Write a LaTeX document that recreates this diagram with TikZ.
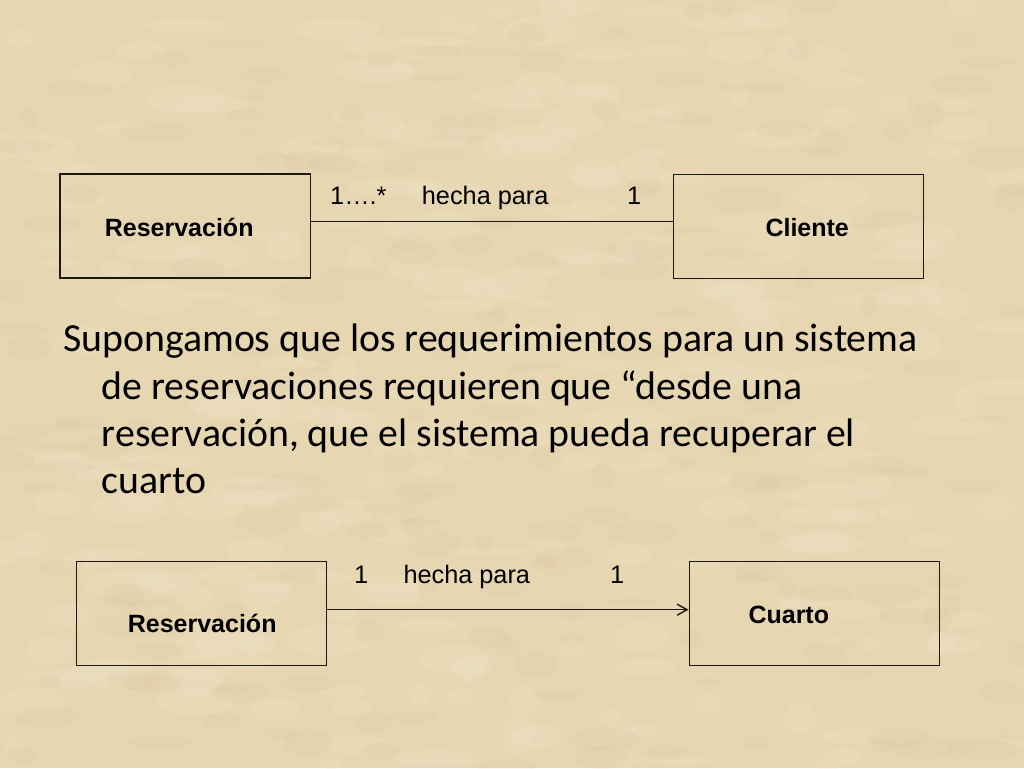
\documentclass[tikz,border=0pt]{standalone}
\usepackage{fontspec}
\setmainfont{Carlito}
\newfontfamily\arialf{Liberation Sans}
\usetikzlibrary{arrows.meta}
\definecolor{bgbase}{RGB}{230,214,178}
\definecolor{bglight}{RGB}{240,229,203}
\definecolor{bgdark}{RGB}{212,190,146}
\definecolor{ink}{RGB}{30,24,18}
\tikzset{
  umlbox/.style={draw=ink, line width=1.5pt, inner sep=0pt, minimum width=250pt, minimum height=104pt},
  boxlabel/.style={anchor=base, inner sep=0pt, font=\arialf\bfseries\fontsize{25}{30}\selectfont, text=black},
  assoclabel/.style={anchor=base west, inner sep=0pt, font=\arialf\fontsize{25.3}{30}\selectfont, text=black},
  bodytext/.style={anchor=base west, inner sep=0pt, font=\fontsize{39.8}{47}\selectfont, text=black},
  connector/.style={draw=ink, line width=1.5pt}
}
\begin{document}
\begin{tikzpicture}[x=1pt,y=-1pt]
\useasboundingbox (0,0) rectangle (1024,768);
\fill[bgbase] (0,0) rectangle (1024,768);
\pgfmathsetseed{7}
\foreach \i in {1,...,260}{
  \pgfmathsetmacro{\px}{rnd*1024}
  \pgfmathsetmacro{\py}{rnd*768}
  \pgfmathsetmacro{\rx}{10+rnd*35}
  \pgfmathsetmacro{\ry}{4+rnd*12}
  \fill[bglight, opacity=0.22] (\px,\py) ellipse [x radius=\rx pt, y radius=\ry pt];
}
\foreach \i in {1,...,200}{
  \pgfmathsetmacro{\px}{rnd*1024}
  \pgfmathsetmacro{\py}{rnd*768}
  \pgfmathsetmacro{\rx}{8+rnd*30}
  \pgfmathsetmacro{\ry}{3+rnd*10}
  \fill[bgdark, opacity=0.12] (\px,\py) ellipse [x radius=\rx pt, y radius=\ry pt];
}
\useasboundingbox (0,0) rectangle (1024,768);

% top diagram
\node[umlbox, minimum width=250.7pt, minimum height=104pt] (res1) at (185.3,226.2) {};
\node[umlbox, minimum width=250pt, minimum height=104pt] (cli) at (798.3,226.3) {};
\node[boxlabel] (res1t) at (179.2,236.5) {Reservación};
\node[boxlabel] (clit) at (807.2,236.5) {Cliente};
\coordinate (y1) at (0,221.7);
\draw[connector] (res1.east |- y1) -- (cli.west |- y1);
\node[assoclabel] (m1) at (330,204.3) {1….*};
\node[assoclabel] (h1) at (421.7,204.3) {hecha para};
\node[assoclabel] (n1) at (627,204.3) {1};

% body text
\node[bodytext] (l1) at (63,351.7) {Supongamos que los requerimientos para un sistema};
\node[bodytext] (l2) at (101.7,399.5) {de reservaciones requieren que “desde una};
\node[bodytext] (l3) at (101.7,446.7) {reservación, que el sistema pueda recuperar el};
\node[bodytext] (l4) at (101.7,493.5) {cuarto};

% bottom diagram
\node[umlbox] (res2) at (201.7,613.7) {};
\node[umlbox] (cua) at (814.3,613.7) {};
\node[boxlabel] (res2t) at (202.2,632) {Reservación};
\node[boxlabel] (cuat) at (788.8,623.5) {Cuarto};
\coordinate (y2) at (0,609.7);
\draw[connector, -{Straight Barb[length=10pt,width=11pt,line width=1.4pt]}] (res2.east |- y2) -- (cua.west |- y2);
\node[assoclabel] (m2) at (354,583.3) {1};
\node[assoclabel] (h2) at (403.3,583.3) {hecha para};
\node[assoclabel] (n2) at (610,583.3) {1};
\end{tikzpicture}
\end{document}
